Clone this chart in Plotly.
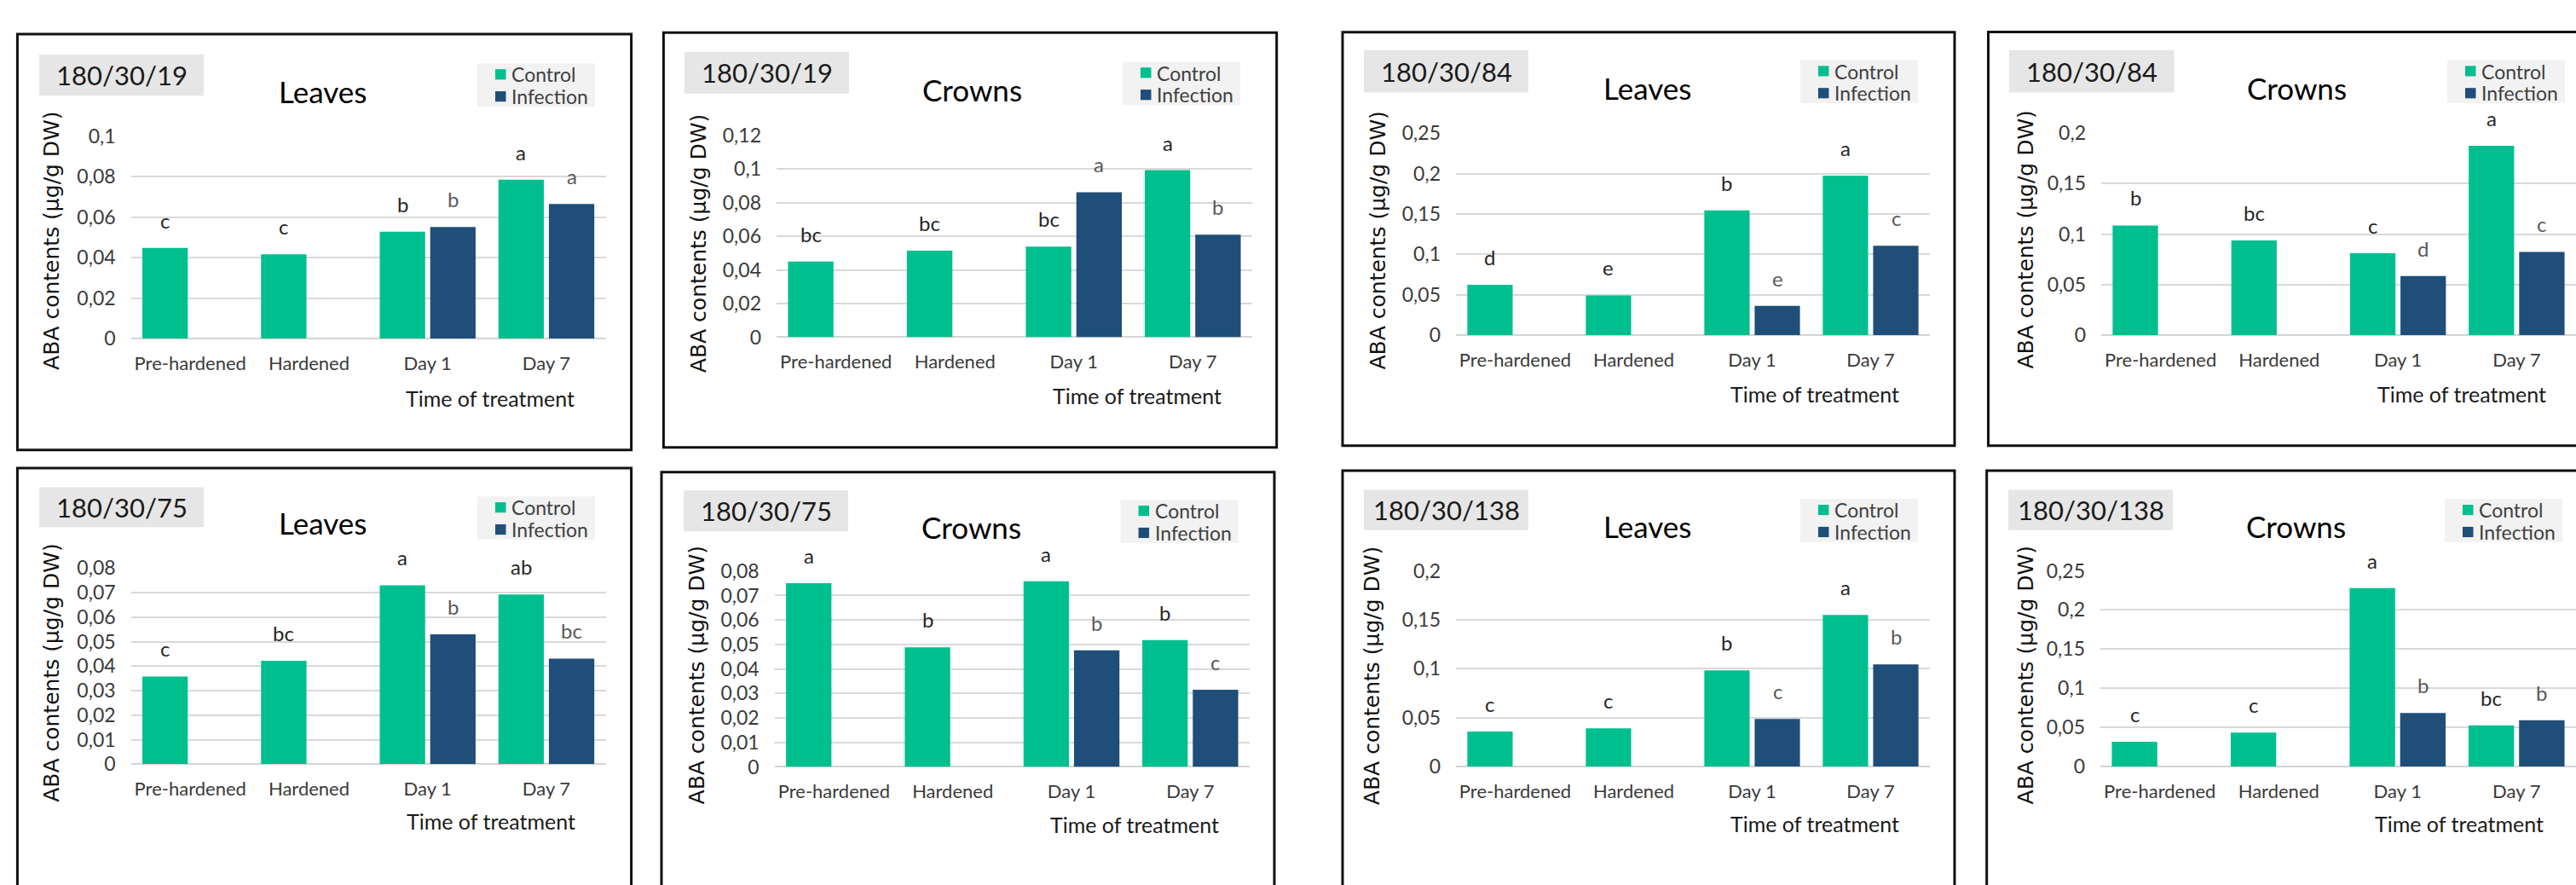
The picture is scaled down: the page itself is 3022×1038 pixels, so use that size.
import plotly.graph_objects as go

# ---------------- data ----------------
categories = ["Pre-hardened", "Hardened", "Day 1", "Day 7"]
series_names = ["Control", "Infection"]

codes = ["180/30/19", "180/30/19", "180/30/84", "180/30/84",
         "180/30/75", "180/30/75", "180/30/138", "180/30/138"]
tissues = ["Leaves", "Crowns", "Leaves", "Crowns",
           "Leaves", "Crowns", "Leaves", "Crowns"]

control_19_leaves = [0.0448, 0.0417, 0.0528, 0.0786]
infection_19_leaves = [None, None, 0.0552, 0.0666]
letters_c_19_leaves = ["c", "c", "b", "a"]
letters_i_19_leaves = [None, None, "b", "a"]
ticks_19_leaves = [0, 0.02, 0.04, 0.06, 0.08, 0.1]

control_19_crowns = [0.0450, 0.0515, 0.0539, 0.0994]
infection_19_crowns = [None, None, 0.0863, 0.0610]
letters_c_19_crowns = ["bc", "bc", "bc", "a"]
letters_i_19_crowns = [None, None, "a", "b"]
ticks_19_crowns = [0, 0.02, 0.04, 0.06, 0.08, 0.1, 0.12]

control_84_leaves = [0.0623, 0.0492, 0.1544, 0.1976]
infection_84_leaves = [None, None, 0.0361, 0.1108]
letters_c_84_leaves = ["d", "e", "b", "a"]
letters_i_84_leaves = [None, None, "e", "c"]
ticks_84_leaves = [0, 0.05, 0.1, 0.15, 0.2, 0.25]

control_84_crowns = [0.1085, 0.0938, 0.0810, 0.1875]
infection_84_crowns = [None, None, 0.0584, 0.0824]
letters_c_84_crowns = ["b", "bc", "c", "a"]
letters_i_84_crowns = [None, None, "d", "c"]
ticks_84_crowns = [0, 0.05, 0.1, 0.15, 0.2]

control_75_leaves = [0.0358, 0.0422, 0.0730, 0.0692]
infection_75_leaves = [None, None, 0.0530, 0.0431]
letters_c_75_leaves = ["c", "bc", "a", "ab"]
letters_i_75_leaves = [None, None, "b", "bc"]
ticks_75_leaves = [0, 0.01, 0.02, 0.03, 0.04, 0.05, 0.06, 0.07, 0.08]

control_75_crowns = [0.0750, 0.0488, 0.0758, 0.0518]
infection_75_crowns = [None, None, 0.0476, 0.0315]
letters_c_75_crowns = ["a", "b", "a", "b"]
letters_i_75_crowns = [None, None, "b", "c"]
ticks_75_crowns = [0, 0.01, 0.02, 0.03, 0.04, 0.05, 0.06, 0.07, 0.08]

control_138_leaves = [0.0357, 0.0390, 0.0981, 0.1549]
infection_138_leaves = [None, None, 0.0486, 0.1044]
letters_c_138_leaves = ["c", "c", "b", "a"]
letters_i_138_leaves = [None, None, "c", "b"]
ticks_138_leaves = [0, 0.05, 0.1, 0.15, 0.2]

control_138_crowns = [0.0316, 0.0433, 0.2280, 0.0525]
infection_138_crowns = [None, None, 0.0683, 0.0591]
letters_c_138_crowns = ["c", "c", "a", "bc"]
letters_i_138_crowns = [None, None, "b", "b"]
ticks_138_crowns = [0, 0.05, 0.1, 0.15, 0.2, 0.25]

y_title = "ABA contents (µg/g DW)"
x_title = "Time of treatment"

panels = [
    (control_19_leaves, infection_19_leaves, letters_c_19_leaves, letters_i_19_leaves, ticks_19_leaves),
    (control_19_crowns, infection_19_crowns, letters_c_19_crowns, letters_i_19_crowns, ticks_19_crowns),
    (control_84_leaves, infection_84_leaves, letters_c_84_leaves, letters_i_84_leaves, ticks_84_leaves),
    (control_84_crowns, infection_84_crowns, letters_c_84_crowns, letters_i_84_crowns, ticks_84_crowns),
    (control_75_leaves, infection_75_leaves, letters_c_75_leaves, letters_i_75_leaves, ticks_75_leaves),
    (control_75_crowns, infection_75_crowns, letters_c_75_crowns, letters_i_75_crowns, ticks_75_crowns),
    (control_138_leaves, infection_138_leaves, letters_c_138_leaves, letters_i_138_leaves, ticks_138_leaves),
    (control_138_crowns, infection_138_crowns, letters_c_138_crowns, letters_i_138_crowns, ticks_138_crowns),
]

# ---------------- layout geometry (pixels) ----------------
W, H = 3022, 1038
geoms = [
    dict(border=(20.4, 25.8, 740.6, 527), plot=(153.6, 149, 710.6, 392.6), label=(46, 50, 239, 100),
         title=(378, 94.7), legend=(560, 61), ytitle=(60.6, 274.7), xtitle=(575, 465)),
    dict(border=(778.4, 24, 1497.7, 524), plot=(911, 148, 1469, 391), label=(803, 47, 996, 97.5),
         title=(1140.5, 93), legend=(1317, 59), ytitle=(819.7, 278), xtitle=(1333.8, 461.5)),
    dict(border=(1575, 23.4, 2293, 521.8), plot=(1708, 145.3, 2264, 388.5), label=(1600, 45, 1793, 96),
         title=(1932, 90), legend=(2112, 57), ytitle=(1617, 274), xtitle=(2129, 459)),
    dict(border=(2332.5, 23, 3040, 521.8), plot=(2465, 145, 3022, 388.5), label=(2357, 45, 2550.6, 96),
         title=(2694, 90), legend=(2871, 57), ytitle=(2377, 274), xtitle=(2888, 459)),
    dict(border=(20.4, 548.8, 740.6, 1060), plot=(153.6, 669.3, 710.6, 905.8), label=(46, 572, 239, 620),
         title=(378, 615), legend=(560, 583), ytitle=(60.6, 795.7), xtitle=(575.6, 974.5)),
    dict(border=(776, 553.7, 1495, 1060), plot=(908.7, 672.9, 1466, 909), label=(802, 575.7, 995, 625),
         title=(1139, 620), legend=(1314.6, 587), ytitle=(817, 799), xtitle=(1331, 978.7)),
    dict(border=(1575, 552, 2293, 1060), plot=(1708, 672.6, 2264, 908.4), label=(1600, 575, 1793, 623.6),
         title=(1932, 619), legend=(2112, 586), ytitle=(1609.7, 799), xtitle=(2129, 977)),
    dict(border=(2330.7, 552, 3040, 1060), plot=(2464, 672.6, 3022, 908.4), label=(2356, 575, 2549, 623.6),
         title=(2693, 619), legend=(2868, 586), ytitle=(2376, 799), xtitle=(2885, 977)),
]

GREEN = "#00BF8F"
BLUE = "#1F4E79"
FONT = "Lato, Calibri, sans-serif"
BARGAP = 0.15
BARGROUPGAP = 0.10


def X(px):
    return px / W


def Y(py):
    return 1 - py / H


def fmt(v):
    return ("%g" % v).replace(".", ",")


fig = go.Figure()
shapes = []
annotations = []
layout_axes = {}

for k, ((ctrl, inf, lc, li, ticks), g, code, tissue) in enumerate(zip(panels, geoms, codes, tissues), start=1):
    sfx = "" if k == 1 else str(k)
    xref, yref = "x" + sfx, "y" + sfx
    px0, py_top, px1, py_zero = g["plot"]

    fig.add_trace(go.Bar(x=categories, y=ctrl, name=series_names[0], marker=dict(color=GREEN, line=dict(width=0)),
                         xaxis=xref, yaxis=yref, showlegend=False))
    fig.add_trace(go.Bar(x=categories, y=inf, name=series_names[1], marker=dict(color=BLUE, line=dict(width=0)),
                         xaxis=xref, yaxis=yref, showlegend=False))

    layout_axes["xaxis" + sfx] = dict(
        domain=[X(px0), X(px1)], anchor=yref, type="category",
        categoryorder="array", categoryarray=categories,
        showgrid=False, zeroline=False, showline=False, ticks="",
        tickfont=dict(family=FONT, size=22, color="#3a3a3a"),
        ticklabelstandoff=14, fixedrange=True)
    layout_axes["yaxis" + sfx] = dict(
        domain=[Y(py_zero), Y(py_top)], anchor=xref, range=[0, ticks[-1]],
        tickvals=ticks, ticktext=[fmt(t) for t in ticks],
        showgrid=True, gridcolor="#d9d9d9", gridwidth=1.5,
        zeroline=True, zerolinecolor="#d4d4d4", zerolinewidth=2,
        showline=False, ticks="",
        tickfont=dict(family=FONT, size=23, color="#3a3a3a"),
        ticklabelstandoff=17, fixedrange=True)

    slot = (px1 - px0) / 4 * (1 - BARGAP) / 4
    for i, cat in enumerate(categories):
        if ctrl[i] is not None and lc[i]:
            annotations.append(dict(x=cat, y=ctrl[i], xref=xref, yref=yref, text=lc[i], showarrow=False,
                                    xshift=-slot, yanchor="bottom", yshift=16,
                                    font=dict(family=FONT, size=24, color="#262626")))
        if inf[i] is not None and li[i]:
            annotations.append(dict(x=cat, y=inf[i], xref=xref, yref=yref, text=li[i], showarrow=False,
                                    xshift=slot, yanchor="bottom", yshift=16,
                                    font=dict(family=FONT, size=24, color="#595959")))

    # panel border
    bx0, by0, bx1, by1 = g["border"]
    shapes.append(dict(type="rect", xref="paper", yref="paper", x0=X(bx0), x1=X(bx1), y0=Y(by1), y1=Y(by0),
                       line=dict(color="#111111", width=3), fillcolor="rgba(0,0,0,0)", layer="above"))
    # code label box
    lx0, ly0, lx1, ly1 = g["label"]
    shapes.append(dict(type="rect", xref="paper", yref="paper", x0=X(lx0), x1=X(lx1), y0=Y(ly1), y1=Y(ly0),
                       line=dict(width=0), fillcolor="#E7E6E6", layer="below"))
    annotations.append(dict(x=X((lx0 + lx1) / 2), y=Y((ly0 + ly1) / 2), xref="paper", yref="paper",
                            text=code, showarrow=False, xanchor="center", yanchor="middle",
                            font=dict(family=FONT, size=31, color="#1a1a1a")))
    # tissue title
    tx, ty = g["title"]
    annotations.append(dict(x=X(tx), y=Y(ty), xref="paper", yref="paper", text=tissue, showarrow=False,
                            xanchor="center", yanchor="middle", font=dict(family=FONT, size=35, color="#000000")))
    # legend
    gx, gy = g["legend"]
    shapes.append(dict(type="rect", xref="paper", yref="paper", x0=X(gx), x1=X(gx + 138), y0=Y(gy + 52), y1=Y(gy),
                       line=dict(width=0), fillcolor="#F2F2F2", layer="below"))
    for j, (nm, col) in enumerate(zip(series_names, [GREEN, BLUE])):
        sy0 = gy + 7 + j * 26.6
        shapes.append(dict(type="rect", xref="paper", yref="paper", x0=X(gx + 21), x1=X(gx + 33.5),
                           y0=Y(sy0 + 12.5), y1=Y(sy0), line=dict(width=0), fillcolor=col, layer="above"))
        annotations.append(dict(x=X(gx + 38), y=Y(sy0 + 6.5), xref="paper", yref="paper", text=nm,
                                showarrow=False, xanchor="left", yanchor="middle",
                                font=dict(family=FONT, size=23, color="#404040")))
    # axis titles
    yx, yy = g["ytitle"]
    annotations.append(dict(x=X(yx), y=Y(yy), xref="paper", yref="paper", text=y_title, showarrow=False,
                            textangle=-90, xanchor="center", yanchor="middle",
                            font=dict(family="DejaVu Sans, sans-serif", size=25, color="#111111")))
    xx, xy = g["xtitle"]
    annotations.append(dict(x=X(xx), y=Y(xy), xref="paper", yref="paper", text=x_title, showarrow=False,
                            xanchor="center", yanchor="middle",
                            font=dict(family=FONT, size=25, color="#1a1a1a")))

fig.update_layout(
    width=W, height=H, margin=dict(l=0, r=0, t=0, b=0),
    paper_bgcolor="white", plot_bgcolor="white",
    barmode="group", bargap=BARGAP, bargroupgap=BARGROUPGAP,
    showlegend=False, separators=",.",
    shapes=shapes, annotations=annotations,
    **layout_axes,
)

fig.write_html("out.html")
